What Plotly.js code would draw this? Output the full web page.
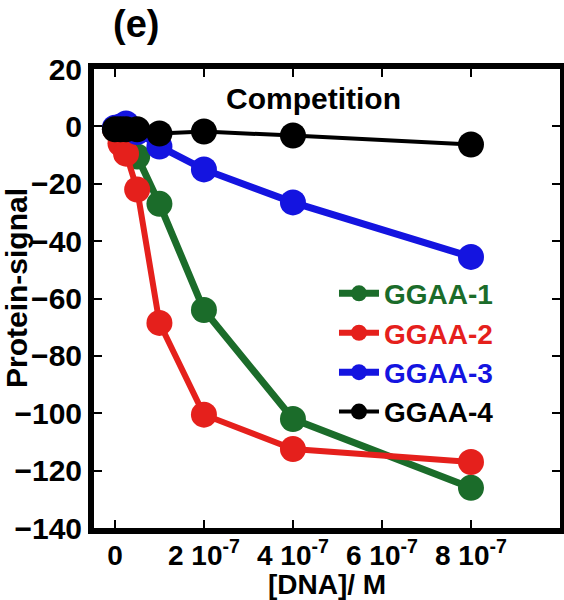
<!DOCTYPE html>
<html>
<head>
<meta charset="utf-8">
<script src="https://cdn.plot.ly/plotly-3.0.1.min.js"></script>
<style>html,body{margin:0;padding:0;background:#fff;}#chart{width:564px;height:600px;}</style>
</head>
<body>
<div id="chart"></div>
<script>
const concentrations = [0, 0.125e-7, 0.25e-7, 0.5e-7, 1e-7, 2e-7, 4e-7, 8e-7];
const ggaa1 = [-1, -2, -4, -10.5, -27, -64, -102, -126];
const ggaa2 = [-1, -6, -9.5, -22, -68.5, -100.5, -112.5, -117];
const ggaa3 = [-0.5, 0, 1, -2, -7, -15, -26.5, -45.5];
const ggaa4 = [-1, -1, -1, -1, -2.5, -1.8, -3.2, -6.3];
const seriesNames = ['GGAA-1', 'GGAA-2', 'GGAA-3', 'GGAA-4'];
const seriesColors = ['#1b6c2a', '#e5201c', '#1414e0', '#000000'];
const xTickVals = [0, 2e-7, 4e-7, 6e-7, 8e-7];
const xTickText = ['0', '2 10<sup>-7</sup>', '4 10<sup>-7</sup>', '6 10<sup>-7</sup>', '8 10<sup>-7</sup>'];
const yTickVals = [20, 0, -20, -40, -60, -80, -100, -120, -140];

const seriesValues = [ggaa1, ggaa2, ggaa3, ggaa4];
const lineWidths = [7, 6, 7, 4];
const traces = seriesValues.map((vals, i) => ({
  x: concentrations,
  y: vals,
  type: 'scatter',
  mode: 'lines+markers',
  name: '<span style="color:' + seriesColors[i] + '">' + seriesNames[i] + '</span>',
  line: {color: seriesColors[i], width: lineWidths[i]},
  marker: {color: seriesColors[i], size: 26},
  cliponaxis: false
}));

const fam = 'Liberation Sans, Arial, sans-serif';
const layout = {
  width: 564, height: 600,
  margin: {l: 94, r: 4, t: 69, b: 72},
  paper_bgcolor: '#fff', plot_bgcolor: '#fff',
  font: {family: fam, size: 28, color: '#000', weight: 'bold'},
  showlegend: true,
  legend: {
    x: 0.515, y: 0.565, xanchor: 'left', yanchor: 'top',
    bgcolor: 'rgba(0,0,0,0)', borderwidth: 0,
    font: {family: fam, size: 28, weight: 'bold'},
    itemwidth: 40, tracegroupgap: 0
  },
  xaxis: {
    range: [-0.47e-7, 10e-7],
    tickvals: xTickVals, ticktext: xTickText,
    ticks: 'inside', ticklen: 8, tickwidth: 2, tickcolor: '#000',
    ticklabelstandoff: -3,
    showline: true, linewidth: 6, linecolor: '#000', mirror: 'ticks',
    showgrid: false, zeroline: false,
    tickfont: {family: fam, size: 28, weight: 'bold'}
  },
  yaxis: {
    range: [-140, 20],
    tickvals: yTickVals,
    ticks: 'inside', ticklen: 8, tickwidth: 2, tickcolor: '#000',
    showline: true, linewidth: 6, linecolor: '#000', mirror: 'ticks',
    showgrid: false, zeroline: false,
    tickfont: {family: fam, size: 30, weight: 'bold'}
  },
  annotations: [
    {text: 'Competition', xref: 'paper', yref: 'paper', x: 0.47, y: 0.935, xanchor: 'center', yanchor: 'middle', showarrow: false,
     font: {family: fam, size: 30, weight: 'bold'}},
    {text: '(e)', xref: 'paper', yref: 'paper', x: 0.09, y: 1.098, xanchor: 'center', yanchor: 'middle', showarrow: false,
     font: {family: fam, size: 38, weight: 'bold'}},
    {text: 'Protein-signal', xref: 'paper', yref: 'paper', x: -0.165, y: 0.523, xanchor: 'center', yanchor: 'middle', showarrow: false,
     textangle: -90, font: {family: fam, size: 30, weight: 'bold'}},
    {text: '[DNA]/ M', xref: 'paper', yref: 'paper', x: 0.5, y: -0.124, xanchor: 'center', yanchor: 'middle', showarrow: false,
     font: {family: fam, size: 28, weight: 'bold'}, borderpad: 0}
  ]
};

Plotly.newPlot('chart', traces, layout, {displayModeBar: false, staticPlot: true});
</script>
</body>
</html>
